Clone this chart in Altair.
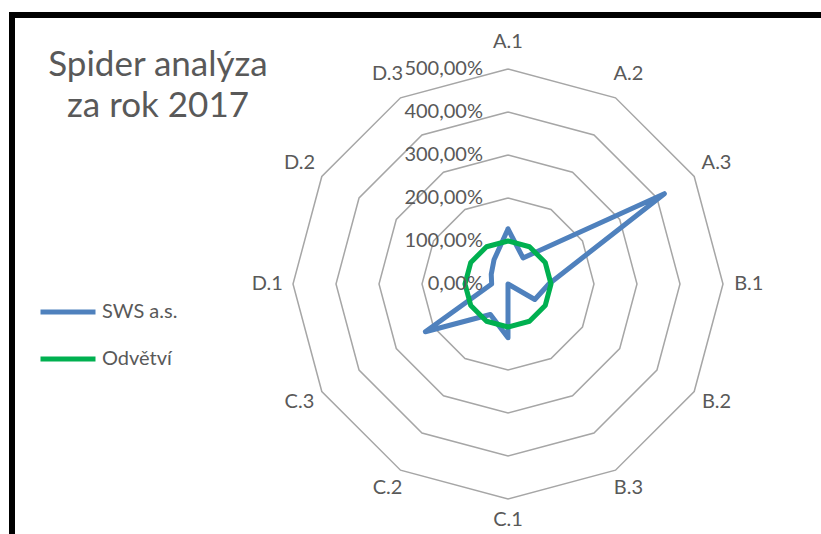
import math
import altair as alt
import pandas as pd

# ---- data ----
categories = ["A.1", "A.2", "A.3", "B.1", "B.2", "B.3",
              "C.1", "C.2", "C.3", "D.1", "D.2", "D.3"]
sws_values = [128, 70, 420, 95, 72, 0, 125, 82, 222, 38, 45, 65]       # SWS a.s. (%)
odvetvi_values = [100, 100, 100, 100, 100, 100, 100, 100, 100, 100, 100, 100]  # Odvětví (%)
series_names = ["SWS a.s.", "Odvětví"]
ring_levels = [100, 200, 300, 400, 500]
tick_levels = [0, 100, 200, 300, 400, 500]
tick_labels = ["0,00%", "100,00%", "200,00%", "300,00%", "400,00%", "500,00%"]
title_lines = ["Spider analýza", "za rok 2017"]

# ---- layout ----
W, H = 821, 534
CX, CY = 508, 284          # centre of the radar in page pixels
UNIT = 43                  # pixels per 100 %
N = len(categories)
FONT = "Lato"
TEXT_COLOR = "#595959"
BLUE = "#4F81BD"
GREEN = "#00B050"

xscale = alt.Scale(domain=[-CX / UNIT, (W - CX) / UNIT], nice=False, zero=False)
yscale = alt.Scale(domain=[-(H - CY) / UNIT, CY / UNIT], nice=False, zero=False)

# series table (closed polygons)
rows = []
for name, vals in zip(series_names, [sws_values, odvetvi_values]):
    for i in range(N + 1):
        rows.append({"series": name, "idx": i, "cat": categories[i % N], "value": vals[i % N]})
series_df = pd.DataFrame(rows)

ring_rows = []
for lvl in ring_levels:
    for i in range(N + 1):
        ring_rows.append({"level": lvl, "idx": i})
ring_df = pd.DataFrame(ring_rows)

cat_df = pd.DataFrame({"cat": categories, "idx": list(range(N))})
tick_df = pd.DataFrame({"level": tick_levels, "label": tick_labels})

theta = f"datum.idx * 2 * PI / {N}"

X = lambda f: alt.X(f, type="quantitative", scale=xscale, axis=None)
Y = lambda f: alt.Y(f, type="quantitative", scale=yscale, axis=None)

rings = alt.Chart(ring_df).transform_calculate(
    px=f"datum.level / 100 * sin({theta})",
    py=f"datum.level / 100 * cos({theta})",
).mark_line(color="#A6A6A6", strokeWidth=1.5).encode(
    x=X("px"), y=Y("py"), detail="level:N", order="idx:Q"
)

color_scale = alt.Scale(domain=series_names, range=[BLUE, GREEN])

def series_layer(name, legend):
    return alt.Chart(series_df).transform_filter(
        alt.datum.series == name
    ).transform_calculate(
        px=f"datum.value / 100 * sin({theta})",
        py=f"datum.value / 100 * cos({theta})",
    ).mark_line(strokeWidth=5, strokeJoin="round", strokeCap="round").encode(
        x=X("px"), y=Y("py"), order="idx:Q",
        color=alt.Color("series:N", scale=color_scale, legend=legend),
    )

legend = alt.Legend(
    title=None, orient="none", legendX=38, legendY=282,
    symbolType="stroke", symbolStrokeWidth=5, symbolSize=3025,
    labelFont=FONT, labelFontSize=20, labelColor=TEXT_COLOR,
    labelOffset=4, rowPadding=7,
)

blue_line = series_layer("SWS a.s.", legend)
green_line = series_layer("Odvětví", None)

cat_labels = alt.Chart(cat_df).transform_calculate(
    px=f"5.6 * sin({theta})",
    py=f"(cos({theta}) > 0 ? 5.63 : 5.48) * cos({theta})",
).mark_text(font=FONT, fontSize=20, color=TEXT_COLOR, align="center", baseline="middle").encode(
    x=X("px"), y=Y("py"), text="cat:N"
)

ticks = alt.Chart(tick_df).transform_calculate(
    px="0", py="datum.level / 100"
).mark_text(font=FONT, fontSize=20, color=TEXT_COLOR, align="right", baseline="middle", dx=-25).encode(
    x=X("px"), y=Y("py"), text="label:N"
)

title = alt.Chart(pd.DataFrame({"t": [0]})).mark_text(
    text=title_lines, font=FONT, fontSize=35, color=TEXT_COLOR,
    align="center", baseline="alphabetic", lineHeight=41,
).encode(x=alt.value(158), y=alt.value(76))

frame = alt.Chart(pd.DataFrame({"t": [0]})).mark_rect(
    filled=False, stroke="black", strokeWidth=6
).encode(x=alt.value(12), y=alt.value(15), x2=alt.value(W + 20), y2=alt.value(H + 20))

chart = alt.layer(
    frame, rings, blue_line, green_line, cat_labels, ticks, title
).properties(
    width=W, height=H, padding=0,
    autosize=alt.AutoSizeParams(type="none"),
    background="white",
).configure_view(stroke=None)

chart.save("out.html", embed_options={"renderer": "svg", "actions": False})
